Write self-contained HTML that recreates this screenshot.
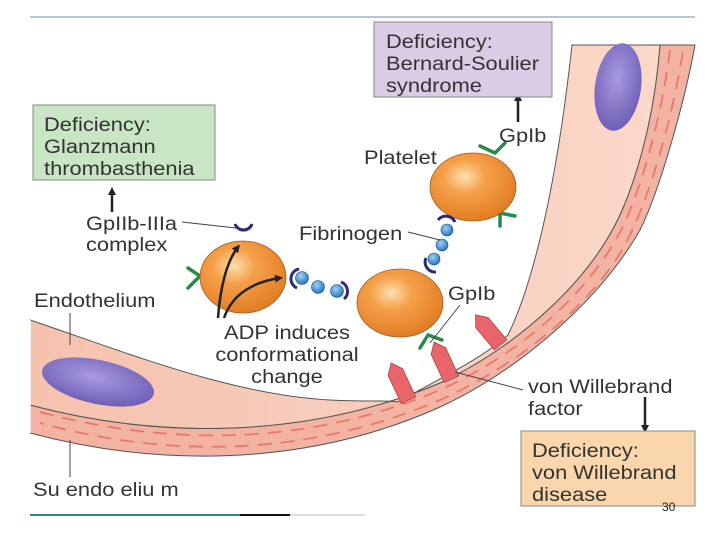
<!DOCTYPE html>
<html><head><meta charset="utf-8"><style>
html,body{margin:0;padding:0;background:#fff;}
svg{display:block;}
text{font-family:"Liberation Sans",Arial,sans-serif;fill:#333;font-size:19px;}
</style></head><body>
<svg width="720" height="540" viewBox="0 0 720 540" xmlns="http://www.w3.org/2000/svg">
<defs>
<radialGradient id="pl" cx="0.4" cy="0.35" r="0.7">
<stop offset="0" stop-color="#fde0b0"/><stop offset="0.35" stop-color="#f5a04a"/><stop offset="1" stop-color="#e07a20"/>
</radialGradient>
<radialGradient id="pu" cx="0.45" cy="0.4" r="0.7">
<stop offset="0" stop-color="#a99ae0"/><stop offset="1" stop-color="#6656b0"/>
</radialGradient>
<radialGradient id="bd" cx="0.4" cy="0.35" r="0.7">
<stop offset="0" stop-color="#9fd0f5"/><stop offset="1" stop-color="#1f6fb8"/>
</radialGradient>
<linearGradient id="en" x1="0" y1="0" x2="1" y2="0">
<stop offset="0" stop-color="#f5c2ae"/><stop offset="1" stop-color="#fad8ca"/>
</linearGradient>
<marker id="ah" markerWidth="8" markerHeight="8" refX="5" refY="4" orient="auto" markerUnits="userSpaceOnUse">
<path d="M0,0 L8,4 L0,8 Z" fill="#222"/>
</marker>
</defs>

<line x1="30" y1="17" x2="695" y2="17" stroke="#9fb2c0" stroke-width="1.5"/>
<line x1="30" y1="515" x2="240" y2="515" stroke="#2f8a8a" stroke-width="2"/>
<line x1="240" y1="515" x2="290" y2="515" stroke="#111" stroke-width="2"/>
<line x1="290" y1="515" x2="365" y2="515" stroke="#ddd" stroke-width="2"/>

<!-- subendothelium -->
<path d="M30,405 C150,437 300,442 440,383 C520,345 590,280 620,215 C640,170 655,110 660,45 L695,45 C685,100 660,190 640,230 C600,300 520,370 440,407 C300,470 150,465 30,433 Z" fill="#f3b3a2" stroke="#555" stroke-width="1"/>
<path d="M40,412 C160,444 300,449 440,390 C525,352 596,286 626,220 C645,176 663,108 670,50" fill="none" stroke="#e8786e" stroke-width="1.8" stroke-dasharray="14,9"/>
<path d="M40,423 C160,456 300,460 440,400 C525,362 606,294 634,226 C654,182 674,110 683,50" fill="none" stroke="#e8786e" stroke-width="1.8" stroke-dasharray="14,9" stroke-dashoffset="10"/>
<!-- endothelium -->
<path d="M30,320 C120,350 230,395 330,400 C370,402 390,400 398,402 C440,378 480,360 508,335 C530,290 555,200 572,45 L660,45 C655,110 640,170 620,215 C590,280 520,345 440,383 C300,442 150,437 30,405 Z" fill="url(#en)" stroke="#555" stroke-width="1"/>
<line x1="30" y1="320" x2="30" y2="433" stroke="#fff" stroke-width="1.5"/>
<ellipse cx="98" cy="382" rx="57" ry="22" transform="rotate(12 98 382)" fill="url(#pu)"/>
<ellipse cx="618" cy="87" rx="23" ry="44" transform="rotate(8 618 87)" fill="url(#pu)"/>

<!-- vWF arrows -->
<g fill="#e8666a" stroke="#b04048" stroke-width="0.8">
<g transform="translate(400,382) rotate(-25)"><path d="M-8,20 L-8,-11 L0,-21 L8,-11 L8,20 Z"/></g>
<g transform="translate(443,361) rotate(-25)"><path d="M-8,20 L-8,-11 L0,-21 L8,-11 L8,20 Z"/></g>
<g transform="translate(489,331) rotate(-40)"><path d="M-8,18 L-8,-11 L0,-21 L8,-11 L8,18 Z"/></g>
</g>

<!-- green receptors -->
<g stroke="#2a8a4a" stroke-width="3.5" fill="none" stroke-linecap="round">
<path d="M200,276 L188,268 M200,276 L188,288"/>
<path d="M428,335 L420,348 M428,335 L442,340"/>
<path d="M495,153 L480,146 M495,153 L505,143"/>
<path d="M500,213 L500,226 M500,213 L515,216"/>
</g>

<!-- platelets -->
<ellipse cx="243" cy="277" rx="43" ry="36" fill="url(#pl)" stroke="#a05a20" stroke-width="0.8"/>
<ellipse cx="400" cy="303" rx="43" ry="34" fill="url(#pl)" stroke="#a05a20" stroke-width="0.8"/>
<ellipse cx="473" cy="187" rx="43" ry="34" fill="url(#pl)" stroke="#a05a20" stroke-width="0.8"/>

<!-- caps -->
<g stroke="#2b2a7a" stroke-width="3" fill="none">
<path d="M235,224 A9,9 0 0 0 252,224"/>
<path d="M299,269 A10,10 0 0 0 297,288"/>
<path d="M341,282 A10,10 0 0 1 344,299"/>
<path d="M438,220 A10,10 0 0 1 455,222"/>
<path d="M426,258 A10,10 0 0 0 436,272"/>
</g>
<g fill="url(#bd)" stroke="#1a4f8a" stroke-width="0.6">
<circle cx="302" cy="278" r="6.5"/><circle cx="318" cy="287" r="6.5"/><circle cx="337" cy="291" r="6.5"/>
<circle cx="447" cy="230" r="6"/><circle cx="442" cy="245" r="6"/><circle cx="434" cy="259" r="6"/>
</g>

<!-- ADP arrows -->
<path d="M218,318 C220,290 226,262 238,247" fill="none" stroke="#222" stroke-width="2.5" marker-end="url(#ah)"/>
<path d="M224,318 C232,295 252,282 280,278" fill="none" stroke="#222" stroke-width="2.5" marker-end="url(#ah)"/>

<!-- leader lines -->
<g stroke="#444" stroke-width="1" fill="none">
<line x1="182" y1="222" x2="236" y2="228"/>
<line x1="408" y1="232" x2="440" y2="240"/>
<line x1="460" y1="305" x2="430" y2="343"/>
<line x1="70" y1="313" x2="70" y2="345"/>
<line x1="70" y1="440" x2="70" y2="477"/>
<line x1="523" y1="390" x2="455" y2="372"/>
</g>
<g stroke="#222" stroke-width="2.5" fill="none">
<line x1="112" y1="212" x2="112" y2="190" marker-end="url(#ah)"/>
<line x1="518" y1="122" x2="518" y2="96" marker-end="url(#ah)"/>
<line x1="645" y1="397" x2="645" y2="430" marker-end="url(#ah)"/>
</g>

<!-- boxes -->
<rect x="33" y="105" width="182" height="75" fill="#c9e6c4" stroke="#888"/>
<g transform="translate(44,0) scale(1.15,1)"><text><tspan x="0" y="131">Deficiency:</tspan><tspan x="0" y="153">Glanzmann</tspan><tspan x="0" y="175">thrombasthenia</tspan></text></g>
<rect x="374" y="22" width="178" height="75" fill="#dccbe5" stroke="#888"/>
<g transform="translate(386,0) scale(1.15,1)"><text><tspan x="0" y="48">Deficiency:</tspan><tspan x="0" y="70">Bernard-Soulier</tspan><tspan x="0" y="92">syndrome</tspan></text></g>
<rect x="521" y="431" width="174" height="75" fill="#f9d6ac" stroke="#888"/>
<g transform="translate(532,0) scale(1.15,1)"><text><tspan x="0" y="457">Deficiency:</tspan><tspan x="0" y="479">von Willebrand</tspan><tspan x="0" y="501">disease</tspan></text></g>
<text x="662" y="511" style="fill:#222;font-size:12px">30</text>

<!-- labels -->
<g transform="translate(86,0) scale(1.15,1)"><text><tspan x="0" y="230">GpIIb-IIIa</tspan><tspan x="0" y="251">complex</tspan></text></g>
<g transform="translate(364,0) scale(1.15,1)"><text x="0" y="164">Platelet</text></g>
<g transform="translate(499,0) scale(1.15,1)"><text x="0" y="142">GpIb</text></g>
<g transform="translate(299,0) scale(1.15,1)"><text x="0" y="240">Fibrinogen</text></g>
<g transform="translate(448,0) scale(1.15,1)"><text x="0" y="300">GpIb</text></g>
<g transform="translate(34,0) scale(1.15,1)"><text x="0" y="307">Endothelium</text></g>
<g transform="translate(287,0) scale(1.15,1)"><text text-anchor="middle"><tspan x="0" y="339">ADP induces</tspan><tspan x="0" y="361">conformational</tspan><tspan x="0" y="383">change</tspan></text></g>
<g transform="translate(528,0) scale(1.15,1)"><text><tspan x="0" y="393">von Willebrand</tspan><tspan x="0" y="415">factor</tspan></text></g>
<g transform="translate(33,0) scale(1.15,1)"><text x="0" y="496">Su endo  eliu  m</text></g>
</svg>
</body></html>
